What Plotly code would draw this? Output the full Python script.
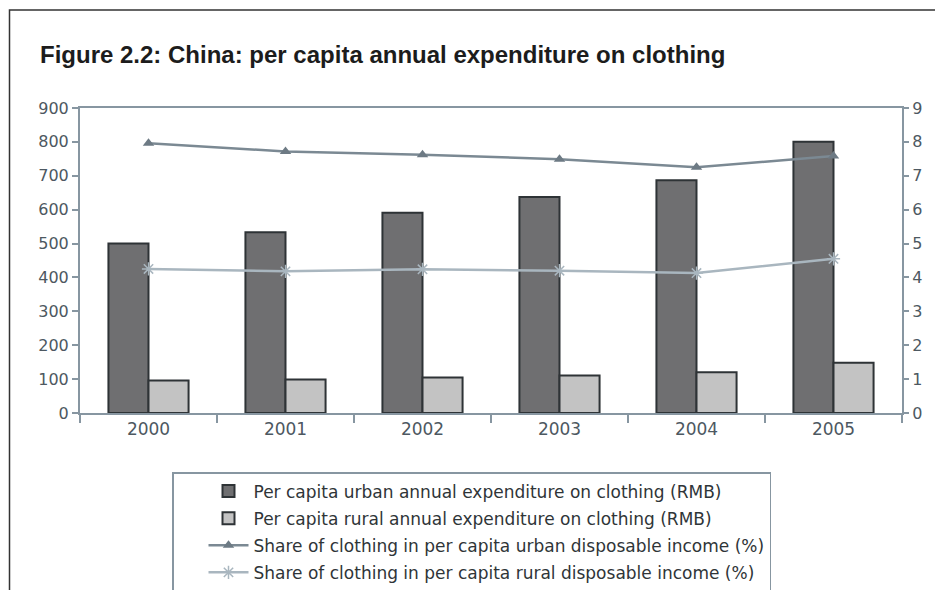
import plotly.graph_objects as go

# China: per capita annual expenditure on clothing, 2000-2005
years = ["2000", "2001", "2002", "2003", "2004", "2005"]
urban_spend = [500.5, 533.7, 590.9, 637.7, 686.8, 800.5]   # RMB
rural_spend = [96.0, 98.7, 105.0, 110.3, 120.2, 148.6]     # RMB
urban_share = [7.96, 7.72, 7.62, 7.49, 7.25, 7.58]         # % of disposable income
rural_share = [4.25, 4.18, 4.24, 4.20, 4.13, 4.55]         # % of disposable income

names = [
    "Per capita urban annual expenditure on clothing (RMB)",
    "Per capita rural annual expenditure on clothing (RMB)",
    "Share of clothing in per capita urban disposable income (%)",
    "Share of clothing in per capita rural disposable income (%)",
]

AXIS = "#8796a1"
TICK = "#4d5861"
EDGE = "#2e3336"
FONT = "DejaVu Sans"

fig = go.Figure()
fig.add_trace(go.Bar(
    x=years, y=urban_spend, name=names[0], legendgroup="a",
    marker=dict(color="#6f6f71", line=dict(color=EDGE, width=2)),
))
fig.add_trace(go.Bar(
    x=years, y=rural_spend, name=names[1], legendgroup="b",
    marker=dict(color="#c3c3c3", line=dict(color=EDGE, width=2)),
))
fig.add_trace(go.Scatter(
    x=years, y=urban_share, name=names[2], yaxis="y2", legendgroup="c",
    mode="lines+markers",
    line=dict(color="#7b8993", width=2.5),
    marker=dict(symbol="triangle-up", size=10, color="#6d7a84"),
))
fig.add_trace(go.Scatter(
    x=years, y=rural_share, name=names[3], yaxis="y2", legendgroup="d",
    mode="lines+markers",
    line=dict(color="#a9b6bf", width=2.5),
    marker=dict(symbol="asterisk-open", size=11, line=dict(color="#9aa8b2", width=1.5)),
))

fig.update_layout(
    width=935, height=590,
    margin=dict(l=80, r=33, t=108, b=177, autoexpand=False),
    paper_bgcolor="white", plot_bgcolor="white",
    font=dict(family=FONT, size=16, color=TICK),
    barmode="group", bargap=0.415, bargroupgap=0,
    showlegend=True,
    title=dict(
        text="Figure 2.2: China: per capita annual expenditure on clothing",
        x=40 / 935, xanchor="left", xref="container",
        y=1 - 55 / 590, yanchor="middle", yref="container",
        font=dict(family="Liberation Sans", size=24, color="#1c1c1c", weight="bold"),
    ),
    xaxis=dict(
        showline=True, linecolor=AXIS, linewidth=2, mirror=True,
        ticks="outside", tickson="boundaries", ticklen=8, tickcolor=AXIS, tickwidth=1.5,
        showgrid=False, tickfont=dict(size=17, color=TICK),
    ),
    yaxis=dict(
        range=[0, 900], dtick=100, showgrid=False, zeroline=False,
        showline=True, linecolor=AXIS, linewidth=2,
        ticks="outside", ticklen=6, tickcolor=AXIS, tickwidth=1.5,
        tickfont=dict(size=16, color=TICK),
    ),
    yaxis2=dict(
        range=[0, 9], dtick=1, overlaying="y", side="right",
        showgrid=False, zeroline=False,
        showline=True, linecolor=AXIS, linewidth=2,
        ticks="outside", ticklen=5, tickcolor=AXIS, tickwidth=1.5,
        tickfont=dict(size=16, color=TICK),
    ),
    legend=dict(
        x=(172 - 80) / 822, y=(413 - 472) / 305, xanchor="left", yanchor="top",
        bordercolor=AXIS, borderwidth=1.5, bgcolor="white",
        font=dict(family=FONT, size=17, color="#2f3538"),
        tracegroupgap=2, indentation=30, itemwidth=40,
    ),
    shapes=[dict(
        type="rect", xref="paper", yref="paper",
        x0=(9.5 - 80) / 822, x1=(945 - 80) / 822,
        y0=(413 - 600) / 305, y1=(413 - 10) / 305,
        line=dict(color="#333333", width=1.5), fillcolor="rgba(0,0,0,0)", layer="below",
    )],
)

fig.write_html("out.html")
